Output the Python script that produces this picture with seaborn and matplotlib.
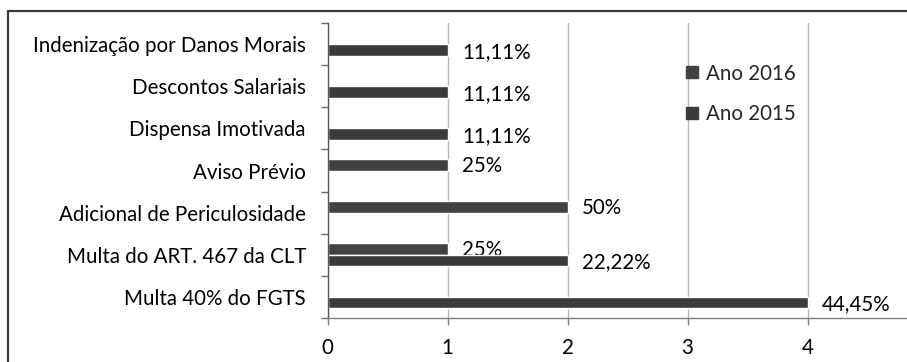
import matplotlib
matplotlib.use("Agg")
import matplotlib.pyplot as plt
from matplotlib.lines import Line2D
import numpy as np
import pandas as pd
import seaborn as sns

# Categorias (de cima para baixo) e valores por ano
categorias = [
    "Indenização por Danos Morais",
    "Descontos Salariais",
    "Dispensa Imotivada",
    "Aviso Prévio",
    "Adicional de Periculosidade",
    "Multa do ART. 467 da CLT",
    "Multa 40% do FGTS",
]
anos = ["Ano 2016", "Ano 2015"]
ano_2016 = [None, None, None, 1, 2, 1, None]
ano_2015 = [1, 1, 1, None, None, 2, 4]
rotulos_2016 = [None, None, None, "25%", "50%", "25%", None]
rotulos_2015 = ["11,11%", "11,11%", "11,11%", None, None, "22,22%", "44,45%"]
ticks_x = [0, 1, 2, 3, 4]

cores = {"Ano 2016": "#424242", "Ano 2015": "#3b3b3b"}

linhas = []
for ano, valores in (("Ano 2016", ano_2016), ("Ano 2015", ano_2015)):
    for cat, v in zip(categorias, valores):
        if v is not None:
            linhas.append({"categoria": cat, "ano": ano, "valor": v})
df = pd.DataFrame(linhas)
rotulos = {"Ano 2016": rotulos_2016, "Ano 2015": rotulos_2015}

sns.set_theme(style="white")
plt.rcParams["font.family"] = ["Lato", "DejaVu Sans"]
FS = 14.8

W, H = 907, 362
fig = plt.figure(figsize=(W / 100, H / 100), dpi=100)
ax_left, ax_top, ax_bottom = 327.5, 23.3, 317.7
ax = fig.add_axes([ax_left / W, 1 - ax_bottom / H, 1 - ax_left / W, (ax_bottom - ax_top) / H])

sns.barplot(
    data=df, x="valor", y="categoria", hue="ano",
    order=categorias, hue_order=anos, palette=cores,
    orient="h", width=0.56, errorbar=None, legend=False,
    saturation=1, ax=ax,
)

# Rótulos de dados ao fim de cada barra
for cont, ano in zip(ax.containers, anos):
    textos = []
    for barra in cont:
        idx = int(round(barra.get_y() + barra.get_height() / 2))
        textos.append(rotulos[ano][idx] or "")
    for t in ax.bar_label(cont, labels=textos, padding=10.5, fontsize=FS, color="black", zorder=0.8):
        x, y = t.xyann
        t.xyann = (x, y - 1.2)

ax.set_xlim(0, (W - ax_left) / 120)
ax.set_ylim(len(categorias) - 0.5, -0.5)
ax.set_xticks(ticks_x)
ax.set_xticklabels([str(t) for t in ticks_x], fontsize=FS, color="black")

# Marcas nos limites das categorias, nomes no centro
ax.set_yticks(np.arange(-0.5, len(categorias), 1))
ax.set_yticklabels([])
ax.set_yticks(range(len(categorias)), minor=True)
ax.set_yticklabels(categorias, minor=True, fontsize=FS, color="black")
ax.tick_params(axis="y", which="minor", length=0, pad=15.5)
ax.tick_params(axis="y", which="major", length=4.8, width=1, color="#6b6b6b", direction="out", left=True)
ax.tick_params(axis="x", length=4.8, width=1, color="#7f7f7f", direction="out", bottom=True, pad=9.5)
ax.set_xlabel("")
ax.set_ylabel("")

ax.grid(axis="x", color="#b8b8b8", lw=1)
ax.grid(axis="y", visible=False)
ax.set_axisbelow(True)
for lado in ("top", "right"):
    ax.spines[lado].set_visible(False)
ax.spines["left"].set_color("#5a5a5a")
ax.spines["bottom"].set_color("#7f7f7f")
ax.spines["left"].set_linewidth(1)
ax.spines["bottom"].set_linewidth(1)

# Legenda
alcas = [Line2D([], [], ls="none", marker="s", markersize=8.2, color=cores[a]) for a in anos]
ax.legend(
    alcas, anos, loc="upper left", bbox_to_anchor=(686 / W, 1 - 63.5 / H),
    bbox_transform=fig.transFigure, frameon=False, fontsize=FS,
    handlelength=0.6, handletextpad=0.38, labelspacing=1.0,
    borderpad=0, borderaxespad=0,
)

# Moldura do gráfico
borda = "#3a3a3a"
fig.add_artist(Line2D([8 / W, 1], [1 - 11 / H, 1 - 11 / H], transform=fig.transFigure, color=borda, lw=1.6))
fig.add_artist(Line2D([8 / W, 8 / W], [0, 1 - 11 / H], transform=fig.transFigure, color=borda, lw=1.6))

fig.savefig("out.png", dpi=100)
